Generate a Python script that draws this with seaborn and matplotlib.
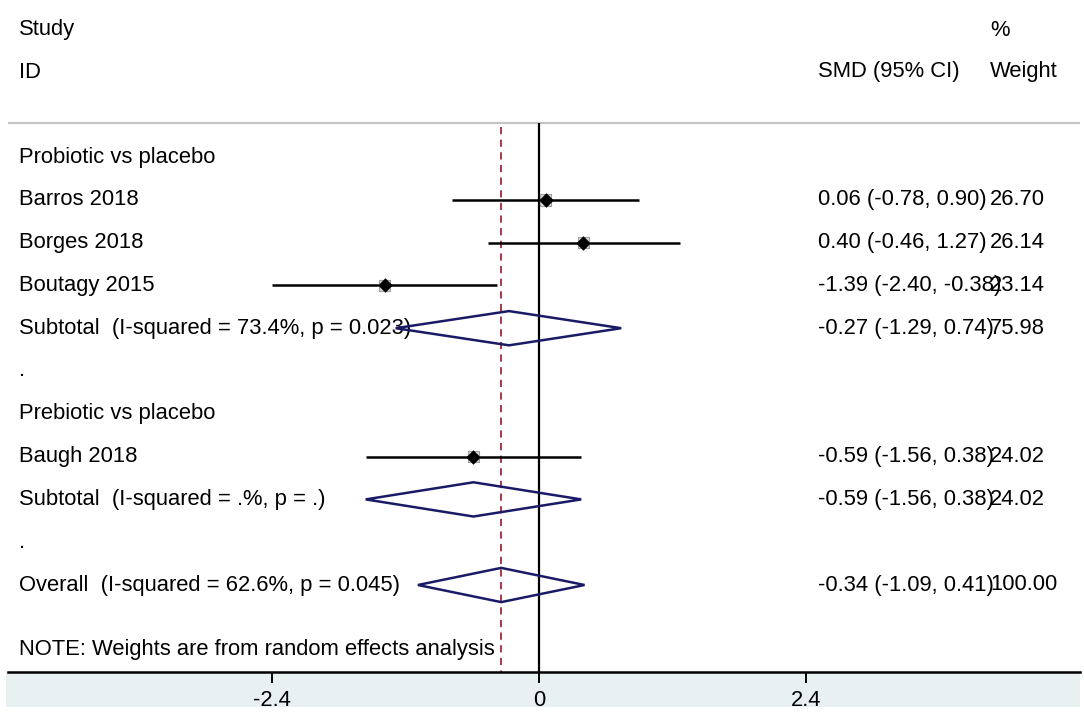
import matplotlib
matplotlib.use("Agg")
import matplotlib.pyplot as plt
import seaborn as sns
import pandas as pd
from matplotlib.patches import Polygon, Rectangle

sns.set_theme(style="white")
plt.rcParams['font.family'] = ['Liberation Sans', 'DejaVu Sans']

# ---- data ----
groups = ["Probiotic vs placebo", "Prebiotic vs placebo"]
studies = ["Barros 2018", "Borges 2018", "Boutagy 2015", "Baugh 2018"]
study_group = [0, 0, 0, 1]
smd = [0.06, 0.40, -1.39, -0.59]
ci_lo = [-0.78, -0.46, -2.40, -1.56]
ci_hi = [0.90, 1.27, -0.38, 0.38]
weights = [26.70, 26.14, 23.14, 24.02]

sub_labels = ["Subtotal  (I-squared = 73.4%, p = 0.023)",
              "Subtotal  (I-squared = .%, p = .)"]
sub_smd = [-0.27, -0.59]
sub_lo = [-1.29, -1.56]
sub_hi = [0.74, 0.38]
sub_w = [75.98, 24.02]

overall_label = "Overall  (I-squared = 62.6%, p = 0.045)"
overall_smd = -0.34
overall_lo = -1.09
overall_hi = 0.41
overall_w = 100.00

xticks = [-2.4, 0, 2.4]
xtick_labels = ["-2.4", "0", "2.4"]

# ---- layout ----
W, H = 1084, 713
fig = plt.figure(figsize=(W / 100, H / 100), dpi=100)
fig.patch.set_facecolor("white")

ax_left_px, ax_right_px = 8, 1080
ax_bottom_px = 672
ax = fig.add_axes([ax_left_px / W, (H - ax_bottom_px) / H,
                   (ax_right_px - ax_left_px) / W, ax_bottom_px / H])
ax.set_zorder(2)
ax.patch.set_alpha(0)

px_per_unit = 111.1
zero_px = 539
ax.set_xlim((ax_left_px - zero_px) / px_per_unit, (ax_right_px - zero_px) / px_per_unit)
row_px = 42.8
row0_px = 157
ax.set_ylim((ax_bottom_px - row0_px) / row_px, (0 - row0_px) / row_px)

# light background band below axis
band = Rectangle((6 / W, (H - 707) / H), (1080 - 6) / W, (707 - ax_bottom_px) / H,
                 transform=fig.transFigure, facecolor="#E9F0F2",
                 edgecolor="none", zorder=-5)
fig.patches.append(band)

# build row table
rows = []
r = 0
for g in range(2):
    rows.append(("group", groups[g], r)); r += 1
    for i, s in enumerate(studies):
        if study_group[i] == g:
            rows.append(("study", i, r)); r += 1
    rows.append(("sub", g, r)); r += 1
    rows.append(("dot", ".", r)); r += 1
overall_row = r

df = pd.DataFrame({
    "study": studies,
    "smd": smd,
    "lo": ci_lo,
    "hi": ci_hi,
    "w": weights,
    "row": [rr for kind, v, rr in rows if kind == "study"],
})

FS = 15.8
tx = dict(fontsize=FS, color="black", va="center", ha="left")
text_x = (19 - zero_px) / px_per_unit
smd_x = (818 - zero_px) / px_per_unit
w_x = (990 - zero_px) / px_per_unit

# header
ax.text(text_x, (30 - row0_px) / row_px, "Study", **tx)
ax.text(text_x, (72 - row0_px) / row_px, "ID", **tx)
ax.text(smd_x, (72 - row0_px) / row_px, "SMD (95% CI)", **tx)
ax.text(w_x, (30 - row0_px) / row_px, "%", **tx)
ax.text(w_x, (72 - row0_px) / row_px, "Weight", **tx)
top_line = (123 - row0_px) / row_px
ax.axhline(top_line, color="#C4C4C4", lw=1.6, zorder=1)

# vertical lines
ax.vlines(0, top_line, ax.get_ylim()[0], color="black", lw=1.6, zorder=2)
ax.vlines(overall_smd, top_line + 0.1, ax.get_ylim()[0], color="#A0283A", lw=1.3,
          linestyles=(0, (4, 3)), zorder=2)

# CIs
ax.hlines(df["row"], df["lo"], df["hi"], color="black", lw=1.8, zorder=3)
# weight boxes
sns.scatterplot(data=df, x="smd", y="row", marker="s", s=[w * 2.6 for w in weights],
                color="#DADADA", edgecolor="#A0A0A0", linewidth=0.8, ax=ax,
                legend=False, zorder=4)
sns.scatterplot(data=df, x="smd", y="row", marker="D", s=55, color="black",
                edgecolor="black", linewidth=0, ax=ax, legend=False, zorder=5)


def diamond(c, lo, hi, y, h=0.4):
    p = Polygon([(lo, y), (c, y - h), (hi, y), (c, y + h)], closed=True,
                facecolor="none", edgecolor="#1A1A66", lw=1.8, zorder=6)
    ax.add_patch(p)


def fmt_row(c, lo, hi):
    return f"{c:.2f} ({lo:.2f}, {hi:.2f})"


for kind, v, rr in rows:
    if kind == "group":
        ax.text(text_x, rr, v, **tx)
    elif kind == "study":
        ax.text(text_x, rr, studies[v], **tx)
        ax.text(smd_x, rr, fmt_row(smd[v], ci_lo[v], ci_hi[v]), **tx)
        ax.text(w_x, rr, f"{weights[v]:.2f}", **tx)
    elif kind == "sub":
        ax.text(text_x, rr, sub_labels[v], **tx)
        diamond(sub_smd[v], sub_lo[v], sub_hi[v], rr)
        ax.text(smd_x, rr, fmt_row(sub_smd[v], sub_lo[v], sub_hi[v]), **tx)
        ax.text(w_x, rr, f"{sub_w[v]:.2f}", **tx)
    else:
        ax.text(text_x, rr, v, **tx)

ax.text(text_x, overall_row, overall_label, **tx)
diamond(overall_smd, overall_lo, overall_hi, overall_row)
ax.text(smd_x, overall_row, fmt_row(overall_smd, overall_lo, overall_hi), **tx)
ax.text(w_x, overall_row, f"{overall_w:.2f}", **tx)

ax.text(text_x, (650 - row0_px) / row_px, "NOTE: Weights are from random effects analysis", **tx)

# axes styling
for side in ["top", "right", "left"]:
    ax.spines[side].set_visible(False)
ax.spines["bottom"].set_color("black")
ax.spines["bottom"].set_linewidth(1.8)
ax.set_xticks(xticks)
ax.set_xticklabels(xtick_labels, fontsize=FS)
ax.tick_params(axis="x", direction="out", length=8, width=1.4, color="black", pad=5,
               bottom=True, labelcolor="black")
ax.set_yticks([])
ax.set_xlabel("")
ax.set_ylabel("")
ax.grid(False)

fig.savefig("out.png", dpi=100, facecolor="white")
